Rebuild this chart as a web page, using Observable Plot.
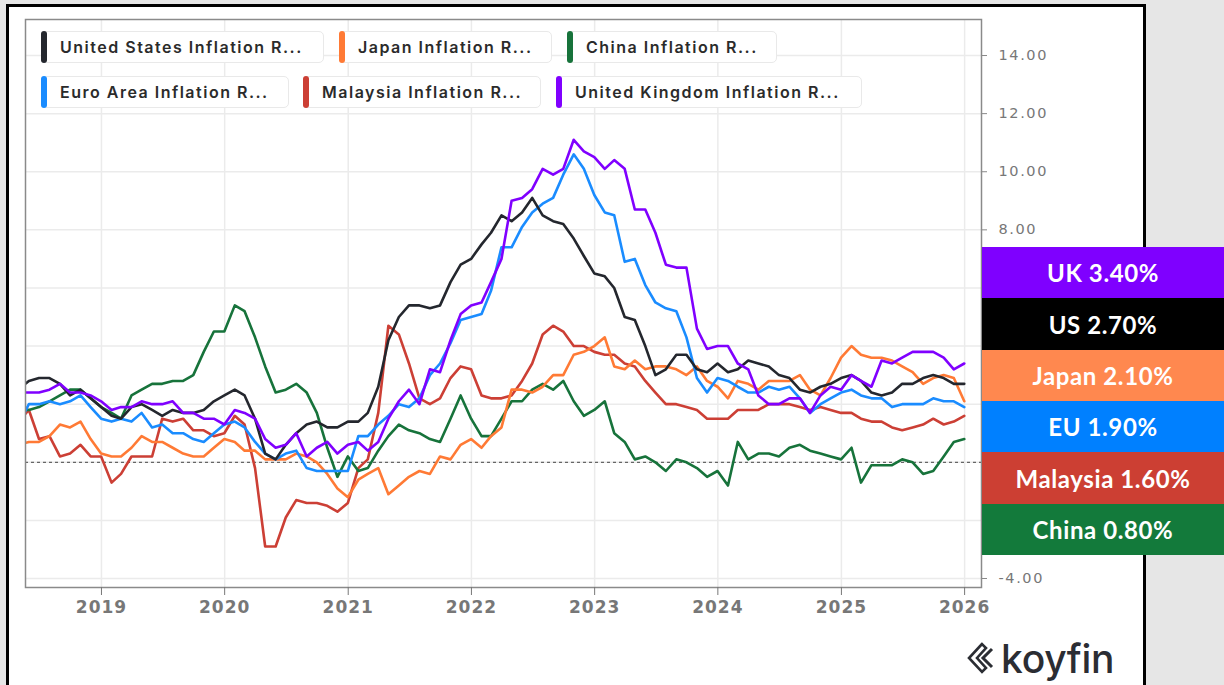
<!DOCTYPE html>
<html><head><meta charset="utf-8">
<script src="https://cdn.jsdelivr.net/npm/d3@7"></script>
<script src="https://cdn.jsdelivr.net/npm/@observablehq/plot@0.6"></script>
<style>
html,body{margin:0;padding:0;background:#e6e6e6;width:1224px;height:685px;overflow:hidden;}
#panel{position:absolute;left:6px;top:4px;width:1140px;height:700px;background:#fff;border:3px solid #000;box-sizing:border-box;}
#chart{position:absolute;left:0;top:0;}
.leg{position:absolute;height:32px;border:1px solid #e9e9e9;border-radius:5px;background:#fff;box-sizing:border-box;font:600 16px Inter,sans-serif;letter-spacing:1.5px;color:#2b2b2b;line-height:30px;padding-left:18px;white-space:nowrap;}
.leg .bar{position:absolute;left:-1px;top:-1px;bottom:-1px;width:6px;border-radius:3px;}
.tag{position:absolute;left:982px;width:242px;color:#fff;font:700 24px Lato,sans-serif;letter-spacing:0.6px;display:flex;align-items:center;justify-content:center;}
#logo{position:absolute;left:966px;top:637px;height:42px;display:flex;align-items:center;}
#logo span{font:500 39px Inter,sans-serif;color:#2b2d33;margin-left:5px;letter-spacing:-0.3px;}
</style></head>
<body>
<div id="panel"></div>
<div id="chart"></div>
<div id="legend"></div>
<div id="tags"></div>
<div id="logo"><svg width="30" height="34" viewBox="0 0 30 34"><path d="M16 3 L3 17 L16 31 L20 27 L11 17 L20 7 Z" fill="none" stroke="#2b2d33" stroke-width="2.6" stroke-linejoin="miter"/><path d="M26 8 L17 17 L26 26" fill="none" stroke="#2b2d33" stroke-width="3"/></svg><span>koyfin</span></div>
<script>
// ---- Data (monthly YoY inflation, %, from April 2018 to December 2025) ----
const startYear = 2018, startMonth = 4;
const names = ["United States", "Japan", "China", "Euro Area", "Malaysia", "United Kingdom"];
const legendLabels = ["United States Inflation R...", "Japan Inflation R...", "China Inflation R...", "Euro Area Inflation R...", "Malaysia Inflation R...", "United Kingdom Inflation R..."];
const colors = ["#24272e", "#ff7a35", "#17733b", "#1a8cff", "#cc3f35", "#8000ff"];

const us = [2.5,2.8,2.9,2.9,2.7,2.3,2.5,2.2,1.9,
 1.6,1.5,1.9,2.0,1.8,1.6,1.8,1.7,1.7,1.8,2.1,2.3,
 2.5,2.3,1.5,0.3,0.1,0.6,1.0,1.3,1.4,1.2,1.2,1.4,
 1.4,1.7,2.6,4.2,5.0,5.4,5.4,5.3,5.4,6.2,6.8,7.0,
 7.5,7.9,8.5,8.3,8.6,9.1,8.5,8.3,8.2,7.7,7.1,6.5,
 6.4,6.0,5.0,4.9,4.0,3.0,3.2,3.7,3.7,3.2,3.1,3.4,
 3.1,3.2,3.5,3.4,3.3,3.0,2.9,2.5,2.4,2.6,2.7,2.9,
 3.0,2.8,2.4,2.3,2.4,2.7,2.7,2.9,3.0,2.9,2.7,2.7];
const japan = [0.6,0.7,0.7,0.9,1.3,1.2,1.4,0.8,0.3,
 0.2,0.2,0.5,0.9,0.7,0.7,0.5,0.3,0.2,0.2,0.5,0.8,
 0.7,0.4,0.4,0.1,0.1,0.1,0.3,0.2,0.0,-0.4,-0.9,-1.2,
 -0.6,-0.4,-0.2,-1.1,-0.8,-0.5,-0.3,-0.4,0.2,0.1,0.6,0.8,
 0.5,0.9,1.2,2.5,2.5,2.4,2.6,3.0,3.0,3.7,3.8,4.0,
 4.3,3.3,3.2,3.5,3.2,3.3,3.3,3.2,3.0,3.3,2.8,2.6,
 2.2,2.8,2.7,2.5,2.8,2.8,2.8,3.0,2.5,2.3,2.9,3.6,
 4.0,3.7,3.6,3.6,3.5,3.3,3.1,2.7,2.9,3.0,2.9,2.1];
const china = [1.8,1.8,1.9,2.1,2.3,2.5,2.5,2.2,1.9,
 1.7,1.5,2.3,2.5,2.7,2.7,2.8,2.8,3.0,3.8,4.5,4.5,
 5.4,5.2,4.3,3.3,2.4,2.5,2.7,2.4,1.7,0.5,-0.5,0.2,
 -0.3,-0.2,0.4,0.9,1.3,1.1,1.0,0.8,0.7,1.5,2.3,1.5,
 0.9,0.9,1.5,2.1,2.1,2.5,2.7,2.5,2.8,2.1,1.6,1.8,
 2.1,1.0,0.7,0.1,0.2,0.0,-0.3,0.1,0.0,-0.2,-0.5,-0.3,
 -0.8,0.7,0.1,0.3,0.3,0.2,0.5,0.6,0.4,0.3,0.2,0.1,
 0.5,-0.7,-0.1,-0.1,-0.1,0.1,0.0,-0.4,-0.3,0.2,0.7,0.8];
const euro = [1.3,2.0,2.0,2.1,2.0,2.1,2.3,1.9,1.5,
 1.4,1.5,1.4,1.7,1.2,1.3,1.0,1.0,0.8,0.7,1.0,1.3,
 1.4,1.2,0.7,0.3,0.1,0.3,0.4,-0.2,-0.3,-0.3,-0.3,-0.3,
 0.9,0.9,1.3,1.6,2.0,1.9,2.2,3.0,3.4,4.1,4.9,5.0,
 5.1,5.9,7.4,7.4,8.1,8.6,8.9,9.1,9.9,10.6,10.1,9.2,
 8.6,8.5,6.9,7.0,6.1,5.5,5.3,5.2,4.3,2.9,2.4,2.9,
 2.8,2.6,2.4,2.4,2.6,2.5,2.6,2.2,1.7,2.0,2.2,2.4,
 2.5,2.3,2.2,2.2,1.9,2.0,2.0,2.0,2.2,2.1,2.1,1.9];
const malaysia = [1.4,1.8,0.8,0.9,0.2,0.3,0.6,0.2,0.2,
 -0.7,-0.4,0.2,0.2,0.2,1.5,1.4,1.5,1.1,1.1,0.9,1.0,
 1.6,1.3,-0.2,-2.9,-2.9,-1.9,-1.3,-1.4,-1.4,-1.5,-1.7,-1.4,
 -0.2,0.1,1.7,4.7,4.4,3.4,2.2,2.0,2.2,2.9,3.3,3.2,
 2.3,2.2,2.2,2.3,2.8,3.4,4.4,4.7,4.5,4.0,4.0,3.8,
 3.7,3.7,3.4,3.3,2.8,2.4,2.0,2.0,1.9,1.8,1.5,1.5,
 1.5,1.8,1.8,1.8,2.0,2.0,2.0,1.9,1.8,1.9,1.8,1.7,
 1.7,1.5,1.4,1.4,1.2,1.1,1.2,1.3,1.5,1.3,1.4,1.6];
const uk = [2.4,2.4,2.4,2.5,2.7,2.4,2.4,2.3,2.1,
 1.8,1.9,1.9,2.1,2.0,2.0,2.1,1.7,1.7,1.5,1.5,1.3,
 1.8,1.7,1.5,0.8,0.5,0.6,1.0,0.2,0.5,0.7,0.3,0.6,
 0.7,0.4,0.7,1.5,2.1,2.5,2.0,3.2,3.1,4.2,5.1,5.4,
 5.5,6.2,7.0,9.0,9.1,9.4,10.1,9.9,10.1,11.1,10.7,10.5,
 10.1,10.4,10.1,8.7,8.7,7.9,6.8,6.7,6.7,4.6,3.9,4.0,
 4.0,3.4,3.2,2.3,2.0,2.0,2.2,2.2,1.7,2.3,2.6,2.5,
 3.0,2.8,2.6,3.5,3.4,3.6,3.8,3.8,3.8,3.6,3.2,3.4];

const tagLabels = ["UK 3.40%", "US 2.70%", "Japan 2.10%", "EU 1.90%", "Malaysia 1.60%", "China 0.80%"];
const tagColors = ["#7f00ff", "#000000", "#ff884f", "#0080ff", "#cc3f33", "#137a3b"];
const yTicks = [-4, -2, 0, 2, 4, 6, 8, 10, 12, 14];
const yLabelTicks = [-4, 8, 10, 12, 14]; // the others sit behind the value tags
const yearTicks = [2019, 2020, 2021, 2022, 2023, 2024, 2025, 2026];

// ---- Build table ----
const seriesValues = [us, japan, china, euro, malaysia, uk];
const monthEnd = i => new Date(Date.UTC(startYear, startMonth - 1 + i + 1, 0));
const rows = [];
const drawOrder = [4, 2, 1, 3, 0, 5];
for (const s of drawOrder) seriesValues[s].forEach((v, i) => rows.push({date: monthEnd(i), value: v, name: names[s]}));
const yearDates = yearTicks.map(y => new Date(Date.UTC(y, 0, 1)));

const chart = Plot.plot({
  width: 1224, height: 685,
  marginLeft: 25, marginRight: 243, marginTop: 19, marginBottom: 98,
  style: {background: "transparent", overflow: "visible"},
  x: {type: "utc", domain: [new Date(Date.UTC(2018, 4, 21)), new Date(Date.UTC(2026, 1, 20))]},
  y: {domain: [-4.31, 15.24]},
  color: {domain: names, range: colors},
  marks: [
    Plot.gridX(yearDates, {stroke: "#ebebeb", strokeOpacity: 1, strokeWidth: 1.5}),
    Plot.gridY(yTicks, {stroke: "#ebebeb", strokeOpacity: 1, strokeWidth: 1.5}),
    Plot.ruleY([0], {stroke: "#666", strokeWidth: 1.2, strokeDasharray: "3,3"}),
    Plot.lineY(rows, {x: "date", y: "value", z: "name", stroke: "name", strokeWidth: 2.6, clip: true}),
    Plot.frame({stroke: "#8a8a8a", strokeWidth: 1.5}),
    Plot.axisX(yearDates, {tickFormat: d => String(d.getUTCFullYear()), tickSize: 8, tickPadding: 5, stroke: "#777", fill: "#777", fontSize: 17, fontWeight: "bold", fontFamily: "DejaVu Sans", label: null}),
    Plot.axisY(yTicks, {anchor: "right", tickSize: 5, text: null, stroke: "#888", label: null}),
    Plot.axisY(yLabelTicks, {anchor: "right", tickFormat: d => d.toFixed(2), tickSize: 0, tickPadding: 17, fill: "#777", fontSize: 14.5, fontFamily: "DejaVu Sans", label: null})
  ]
});
document.getElementById("chart").appendChild(chart);
d3.select(chart).selectAll('g[aria-label="x-axis tick label"] text').attr("letter-spacing", "1px");
d3.select(chart).selectAll('g[aria-label="y-axis tick label"] text').attr("letter-spacing", "1.6px");

// ---- Legend ----
const legPos = [[41, 31, 283], [339, 31, 213], [567, 31, 210], [41, 76, 248], [303, 76, 238], [556, 76, 306]];
const legend = document.getElementById("legend");
legendLabels.forEach((t, i) => {
  const d = document.createElement("div");
  d.className = "leg";
  d.style.left = legPos[i][0] + "px"; d.style.top = legPos[i][1] + "px"; d.style.width = legPos[i][2] + "px";
  d.innerHTML = `<div class="bar" style="background:${colors[i]}"></div>${t}`;
  legend.appendChild(d);
});

// ---- Value tags ----
const tags = document.getElementById("tags");
const tagTop = 247, tagH = 51.3;
tagLabels.forEach((t, i) => {
  const d = document.createElement("div");
  d.className = "tag";
  d.style.top = (tagTop + i * tagH) + "px"; d.style.height = (tagH + 0.5) + "px";
  d.style.background = tagColors[i];
  d.textContent = t;
  tags.appendChild(d);
});
</script>
</body></html>
